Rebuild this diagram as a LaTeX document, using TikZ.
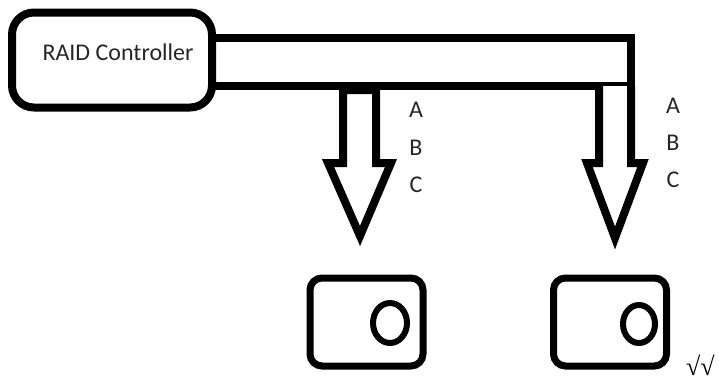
\documentclass[tikz,border=0pt]{standalone}
\usepackage{fontspec}
\setmainfont{Carlito}
\newfontfamily\symfont{Liberation Serif}
\usetikzlibrary{shapes.geometric}
\begin{document}
\begin{tikzpicture}[x=1pt,y=-1pt,
  thick line/.style={line width=8pt},
  boxshape/.style={draw,thick line,rounded corners=22pt,minimum width=200pt,minimum height=95pt,inner sep=0pt},
  diskshape/.style={draw,line width=7pt,rounded corners=12pt,minimum width=113pt,minimum height=88pt,inner sep=0pt},
  holeshape/.style={draw,line width=6pt,ellipse,inner sep=0pt},
  lbl/.style={font=\fontsize{24}{26}\selectfont,text=black!85,inner sep=0pt},
  arrowshape/.style={thick line,line join=miter,fill=white}
]
\useasboundingbox (0,0) rectangle (719,380);
% controller
\node[boxshape] (ctrl) at (112,60) {};
\node[lbl] (ctrltext) at (118,52) {RAID Controller};
% bus
\coordinate (busTL) at (212,38);
\coordinate (busTR) at (631,38);
\coordinate (busBR) at (631,86);
\coordinate (busBL) at (212,86);
\draw[thick line,line join=miter] (busTL) -- (busTR) -- (busBR) -- (busBL);
% left arrow
\draw[arrowshape] (343,90) -- (343,163) -- (328,163) -- (360,236) -- (391,163) -- (376,163) -- (376,90) -- cycle;
% right arrow
\draw[arrowshape] (599,86) -- (599,163) -- (587,163) -- (615,238) -- (643,163) -- (631,163) -- (631,86);
% labels
\node[lbl] (la) at (416,110) {A};
\node[lbl] (lb) at (416,148) {B};
\node[lbl] (lc) at (416,185) {C};
\node[lbl] (ra) at (673,106) {A};
\node[lbl] (rb) at (673,143) {B};
\node[lbl] (rc) at (673,180) {C};
% disks
\node[diskshape] (disk1) at (366.5,322) {};
\node[holeshape,minimum width=34pt,minimum height=40pt] (hole1) at (390,323) {};
\node[diskshape] (disk2) at (610,322) {};
\node[holeshape,minimum width=32pt,minimum height=38pt] (hole2) at (639,324) {};
% stray marks
\node[anchor=base west,inner sep=0pt,font=\symfont\fontsize{26}{28}\selectfont] (checks) at (686,375) {√√};
\end{tikzpicture}
\end{document}
